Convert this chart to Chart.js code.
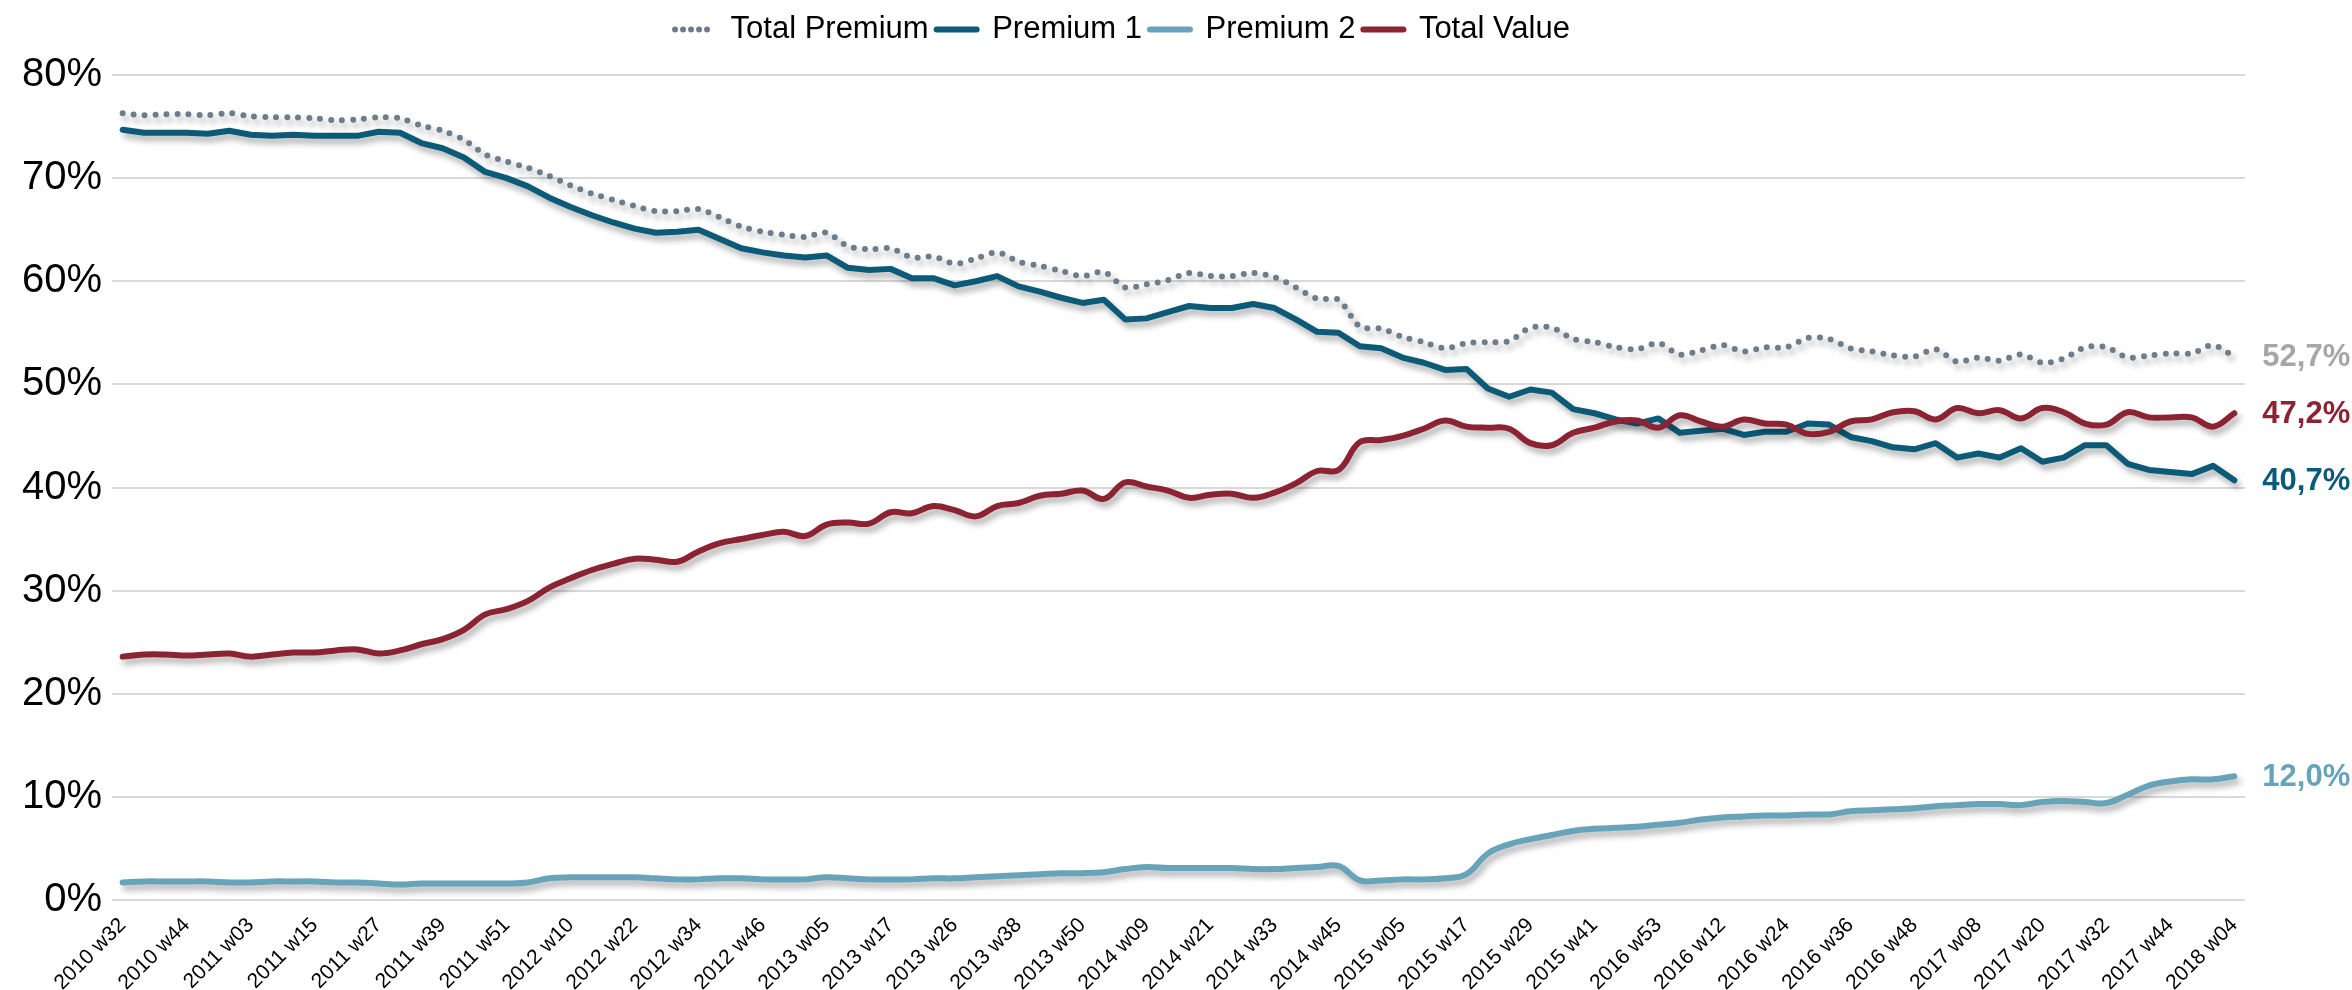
<!DOCTYPE html>
<html>
<head>
<meta charset="utf-8">
<script src="https://cdn.jsdelivr.net/npm/chart.js@4.4.1/dist/chart.umd.min.js"></script>
<style>
	html, body { margin: 0; padding: 0; background: #fff; }
	#chart { display: block; }
</style>
</head>
<body>
<canvas id="chart" width="2352" height="990"></canvas>
<script>
/************  DATA  ************/

// Week labels shown on the x axis (one every 3 data points)
const weekLabels = [
	'2010 w32', '2010 w44', '2011 w03', '2011 w15', '2011 w27', '2011 w39', '2011 w51',
	'2012 w10', '2012 w22', '2012 w34', '2012 w46', '2013 w05', '2013 w17', '2013 w26',
	'2013 w38', '2013 w50', '2014 w09', '2014 w21', '2014 w33', '2014 w45', '2015 w05',
	'2015 w17', '2015 w29', '2015 w41', '2016 w53', '2016 w12', '2016 w24', '2016 w36',
	'2016 w48', '2017 w08', '2017 w20', '2017 w32', '2017 w44', '2018 w04'
];
const pointsPerLabel = 3;

// Series values in percent
const totalPremium = [
	76.3, 76.1, 76.2, 76.2, 76.1, 76.3, 76.0, 75.9, 75.9, 75.8,
	75.6, 75.7, 75.9, 75.8, 75.1, 74.6, 73.7, 72.3, 71.6, 71.0,
	70.2, 69.3, 68.5, 67.9, 67.3, 66.8, 66.8, 67.0, 66.2, 65.3,
	64.8, 64.5, 64.3, 64.7, 63.4, 63.1, 63.2, 62.3, 62.4, 61.7,
	62.2, 62.8, 61.9, 61.5, 61.0, 60.5, 60.9, 59.4, 59.7, 60.1,
	60.8, 60.5, 60.5, 60.8, 60.4, 59.4, 58.3, 58.2, 55.6, 55.4,
	54.6, 54.1, 53.5, 54.0, 54.1, 54.2, 55.5, 55.5, 54.4, 54.1,
	53.6, 53.4, 54.0, 52.9, 53.3, 53.8, 53.2, 53.6, 53.6, 54.5,
	54.4, 53.5, 53.2, 52.8, 52.7, 53.4, 52.2, 52.6, 52.3, 52.9,
	52.1, 52.5, 53.6, 53.6, 52.6, 52.8, 53.0, 53.0, 53.8, 52.7
];
const premium1 = [
	74.7, 74.4, 74.4, 74.4, 74.3, 74.6, 74.2, 74.1, 74.2, 74.1,
	74.1, 74.1, 74.5, 74.4, 73.4, 72.9, 72.0, 70.6, 70.0, 69.2,
	68.1, 67.2, 66.4, 65.7, 65.1, 64.7, 64.8, 65.0, 64.1, 63.2,
	62.8, 62.5, 62.3, 62.5, 61.3, 61.1, 61.2, 60.3, 60.3, 59.6,
	60.0, 60.5, 59.5, 59.0, 58.4, 57.9, 58.2, 56.3, 56.4, 57.0,
	57.6, 57.4, 57.4, 57.8, 57.4, 56.3, 55.1, 55.0, 53.7, 53.5,
	52.6, 52.1, 51.4, 51.5, 49.6, 48.8, 49.5, 49.2, 47.6, 47.2,
	46.6, 46.2, 46.7, 45.3, 45.5, 45.7, 45.1, 45.4, 45.4, 46.2,
	46.1, 44.9, 44.5, 43.9, 43.7, 44.3, 42.9, 43.3, 42.9, 43.8,
	42.5, 42.9, 44.1, 44.1, 42.3, 41.7, 41.5, 41.3, 42.1, 40.7
];
const premium2 = [
	1.7, 1.8, 1.8, 1.8, 1.8, 1.7, 1.7, 1.8, 1.8, 1.8,
	1.7, 1.7, 1.6, 1.5, 1.6, 1.6, 1.6, 1.6, 1.6, 1.7,
	2.1, 2.2, 2.2, 2.2, 2.2, 2.1, 2.0, 2.0, 2.1, 2.1,
	2.0, 2.0, 2.0, 2.2, 2.1, 2.0, 2.0, 2.0, 2.1, 2.1,
	2.2, 2.3, 2.4, 2.5, 2.6, 2.6, 2.7, 3.0, 3.2, 3.1,
	3.1, 3.1, 3.1, 3.0, 3.0, 3.1, 3.2, 3.3, 1.9, 1.9,
	2.0, 2.0, 2.1, 2.5, 4.5, 5.4, 5.9, 6.3, 6.7, 6.9,
	7.0, 7.1, 7.3, 7.5, 7.8, 8.0, 8.1, 8.2, 8.2, 8.3,
	8.3, 8.6, 8.7, 8.8, 8.9, 9.1, 9.2, 9.3, 9.3, 9.2,
	9.5, 9.6, 9.5, 9.4, 10.2, 11.1, 11.5, 11.7, 11.7, 12.0
];
const totalValue = [
	23.6, 23.8, 23.8, 23.7, 23.8, 23.9, 23.6, 23.8, 24.0, 24.0,
	24.2, 24.3, 23.9, 24.2, 24.8, 25.3, 26.2, 27.7, 28.2, 29.0,
	30.3, 31.2, 32.0, 32.6, 33.1, 33.0, 32.8, 33.8, 34.6, 35.0,
	35.4, 35.7, 35.3, 36.4, 36.6, 36.5, 37.6, 37.5, 38.2, 37.8,
	37.2, 38.2, 38.5, 39.2, 39.4, 39.7, 38.9, 40.5, 40.1, 39.7,
	39.0, 39.3, 39.4, 39.0, 39.5, 40.4, 41.6, 41.7, 44.4, 44.6,
	45.0, 45.7, 46.5, 45.9, 45.8, 45.7, 44.3, 44.1, 45.3, 45.8,
	46.4, 46.5, 45.8, 47.0, 46.4, 45.9, 46.6, 46.2, 46.1, 45.2,
	45.4, 46.4, 46.6, 47.3, 47.4, 46.6, 47.7, 47.2, 47.5, 46.7,
	47.7, 47.3, 46.2, 46.1, 47.3, 46.8, 46.8, 46.8, 45.9, 47.2
];

const yTicks = [0, 10, 20, 30, 40, 50, 60, 70, 80];

// One category per data point, with a week label on every third one
const categories = totalValue.map((v, i) =>
	i % pointsPerLabel === 0 ? weekLabels[i / pointsPerLabel] : ''
);

/************  STYLE  ************/

const font = "'Liberation Sans', Arial, sans-serif";
const legendOffsetY = -20; // legend sits higher than the plot spacing would put it

/************  PLUGINS  ************/

// Soft drop shadow under every line
const lineShadow = {
	id: 'lineShadow',
	beforeDatasetsDraw(chart) {
		const ctx = chart.ctx;
		ctx.save();
		ctx.shadowColor = 'rgba(0, 0, 0, 0.32)';
		ctx.shadowBlur = 6;
		ctx.shadowOffsetX = 3;
		ctx.shadowOffsetY = 5;
	},
	afterDatasetsDraw(chart) {
		chart.ctx.restore();
	},
};

// Value of the last point written right of each line
const endLabels = {
	id: 'endLabels',
	afterDraw(chart) {
		const ctx = chart.ctx;
		ctx.save();
		ctx.font = `bold 31px ${font}`;
		ctx.textAlign = 'left';
		ctx.textBaseline = 'middle';
		chart.data.datasets.forEach((ds, i) => {
			const meta = chart.getDatasetMeta(i);
			const last = meta.data[meta.data.length - 1];
			const value = ds.data[ds.data.length - 1];
			ctx.fillStyle = ds.labelColor;
			ctx.fillText(value.toFixed(1).replace('.', ',') + '%', last.x + 28, last.y + 1);
		});
		ctx.restore();
	},
};

// Move the legend up, closer to the top edge
const legendShift = {
	id: 'legendShift',
	afterLayout(chart) {
		chart.legend.top += legendOffsetY;
		chart.legend.bottom += legendOffsetY;
	},
};

/************  CHART  ************/

const ctx = document.getElementById('chart').getContext('2d');

const chart = new Chart(ctx, {
	type: 'line',
	data: {
		labels: categories,
		datasets: [
			{
				label: 'Total Premium',
				data: totalPremium,
				borderColor: '#6d7d8b',
				backgroundColor: '#6d7d8b',
				labelColor: '#a6a6a6',
				borderWidth: 6,
				borderDash: [0, 11],
				legendDash: [0, 8],
				borderCapStyle: 'round',
				tension: 0.3,
				order: 3,
			},
			{
				label: 'Premium 1',
				data: premium1,
				borderColor: '#0b5a78',
				backgroundColor: '#0b5a78',
				labelColor: '#0b5a78',
				borderWidth: 6,
				borderCapStyle: 'round',
				tension: 0,
				order: 2,
			},
			{
				label: 'Premium 2',
				data: premium2,
				borderColor: '#67a4b9',
				backgroundColor: '#67a4b9',
				labelColor: '#67a4b9',
				borderWidth: 6,
				borderCapStyle: 'round',
				tension: 0.4,
				order: 1,
			},
			{
				label: 'Total Value',
				data: totalValue,
				borderColor: '#8b2333',
				backgroundColor: '#8b2333',
				labelColor: '#8b2333',
				borderWidth: 6,
				borderCapStyle: 'round',
				tension: 0.4,
				order: 0,
			},
		],
	},
	options: {
		responsive: false,
		animation: false,
		events: [],
		elements: {
			point: { radius: 0 },
			line: { borderJoinStyle: 'round' },
		},
		layout: { padding: { top: 26, right: 107, bottom: 0, left: 0 } },
		plugins: {
			legend: {
				position: 'top',
				labels: {
					usePointStyle: true,
					pointStyleWidth: 40,
					padding: 8,
					color: '#000',
					font: { family: font, size: 31 },
					// keep dataset order and draw each sample as a short line
					generateLabels(chart) {
						const items = Chart.defaults.plugins.legend.labels.generateLabels(chart);
						items.sort((a, b) => a.datasetIndex - b.datasetIndex);
						return items.map(item => {
							const ds = chart.data.datasets[item.datasetIndex];
							return Object.assign(item, {
								pointStyle: 'line',
								lineWidth: 6,
								lineCap: 'round',
								lineDash: ds.legendDash || [],
								strokeStyle: ds.borderColor,
								fillStyle: ds.borderColor,
							});
						});
					},
				},
			},
			tooltip: { enabled: false },
		},
		scales: {
			x: {
				offset: true,
				grid: { display: false },
				border: { display: false },
				ticks: {
					autoSkip: false,
					minRotation: 45,
					maxRotation: 45,
					padding: 5,
					color: '#000',
					font: { family: font, size: 21 },
				},
				afterFit(scale) {
					scale.height = 90;
				},
			},
			y: {
				min: yTicks[0],
				max: yTicks[yTicks.length - 1],
				afterBuildTicks(scale) {
					scale.ticks = yTicks.map(v => ({ value: v }));
				},
				border: { display: false },
				grid: { color: '#d9d9d9', lineWidth: 2, drawTicks: false },
				ticks: {
					padding: 10,
					color: '#000',
					font: { family: font, size: 40 },
					callback: v => v + '%',
				},
				afterFit(scale) {
					scale.width = 112;
				},
			},
		},
	},
	plugins: [lineShadow, endLabels, legendShift],
});
</script>
</body>
</html>
